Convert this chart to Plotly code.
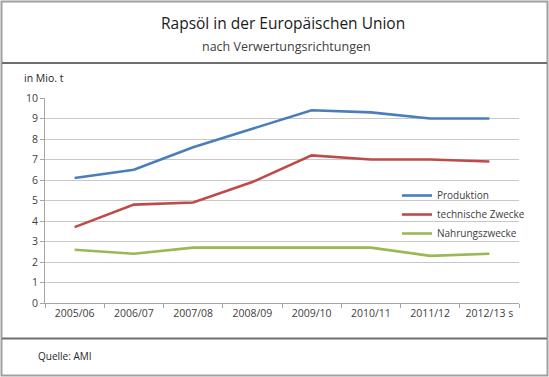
import plotly.graph_objects as go

categories = ["2005/06", "2006/07", "2007/08", "2008/09", "2009/10", "2010/11", "2011/12", "2012/13 s"]
produktion = [6.1, 6.5, 7.6, 8.5, 9.4, 9.3, 9.0, 9.0]
technische = [3.7, 4.8, 4.9, 5.9, 7.2, 7.0, 7.0, 6.9]
nahrung = [2.6, 2.4, 2.7, 2.7, 2.7, 2.7, 2.3, 2.4]
series_names = ["Produktion", "technische Zwecke", "Nahrungszwecke"]
colors = ["#4A7EBB", "#BE4B48", "#98B954"]
y_ticks = list(range(0, 11))

W, H = 549, 377
L, R, T, B = 45, 30, 98, 74
pw, ph = W - L - R, H - T - B

def px(x):
    return (x - L) / pw

def py(y):
    return (H - B - y) / ph

FONT = "Open Sans"
fig = go.Figure()
for name, vals, c in zip(series_names, [produktion, technische, nahrung], colors):
    fig.add_trace(go.Scatter(x=categories, y=vals, name=name, mode="lines",
                             line=dict(color=c, width=2.6)))

fig.update_layout(
    width=W, height=H,
    margin=dict(l=L, r=R, t=T, b=B, autoexpand=False),
    paper_bgcolor="white", plot_bgcolor="white",
    font=dict(family=FONT, size=11, color="#404040"),
    showlegend=True,
    legend=dict(xref="container", yref="container", x=397 / W, y=1 - 181 / H,
                xanchor="left", yanchor="top",
                bgcolor="rgba(0,0,0,0)", font=dict(size=10, color="#404040"),
                itemwidth=30, tracegroupgap=0),
    xaxis=dict(type="category", range=[-0.5, 7.5], showgrid=False, automargin=False,
               showline=True, linecolor="#A6A6A6", linewidth=1,
               ticks="outside", tickson="boundaries", ticklen=4, tickcolor="#A6A6A6",
               tickangle=0, tickfont=dict(size=10.5, color="#404040"), fixedrange=True),
    yaxis=dict(range=[0, 10], tickvals=y_ticks, showgrid=True, gridcolor="#C8C8C8",
               gridwidth=1, showline=True, linecolor="#A6A6A6", linewidth=1, automargin=False,
               ticks="outside", ticklen=4, tickcolor="#A6A6A6", zeroline=False,
               tickfont=dict(size=10.5, color="#404040")),
)

shapes = [
    dict(type="rect", xref="paper", yref="paper", x0=px(1.5), x1=px(547.5), y0=py(375.5), y1=py(1.5),
         line=dict(color="#A0A0A0", width=2)),
    dict(type="line", xref="paper", yref="paper", x0=px(2), x1=px(547), y0=py(63), y1=py(63),
         line=dict(color="#6E6E6E", width=2)),
    dict(type="line", xref="paper", yref="paper", x0=px(2), x1=px(547), y0=py(338.5), y1=py(338.5),
         line=dict(color="#6E6E6E", width=2)),
]
fig.update_layout(shapes=shapes)

fig.add_annotation(text="Rapsöl in der Europäischen Union", x=px(283), y=py(23), xref="paper", yref="paper",
                   showarrow=False, font=dict(family=FONT, size=15.5, color="#1A1A1A"), xanchor="center", yanchor="middle")
fig.add_annotation(text="nach Verwertungsrichtungen", x=px(286), y=py(46), xref="paper", yref="paper",
                   showarrow=False, font=dict(family=FONT, size=12.5, color="#404040"), xanchor="center", yanchor="middle")
fig.add_annotation(text="in Mio. t", x=px(22), y=py(78), xref="paper", yref="paper",
                   showarrow=False, font=dict(family=FONT, size=10.5, color="#262626"), xanchor="left", yanchor="middle")
fig.add_annotation(text="Quelle: AMI", x=px(36), y=py(356), xref="paper", yref="paper",
                   showarrow=False, font=dict(family=FONT, size=10, color="#262626"), xanchor="left", yanchor="middle")

fig.write_html("out.html", config={"displayModeBar": False},
               post_script="document.body.style.margin='0';document.body.style.overflow='hidden';")
